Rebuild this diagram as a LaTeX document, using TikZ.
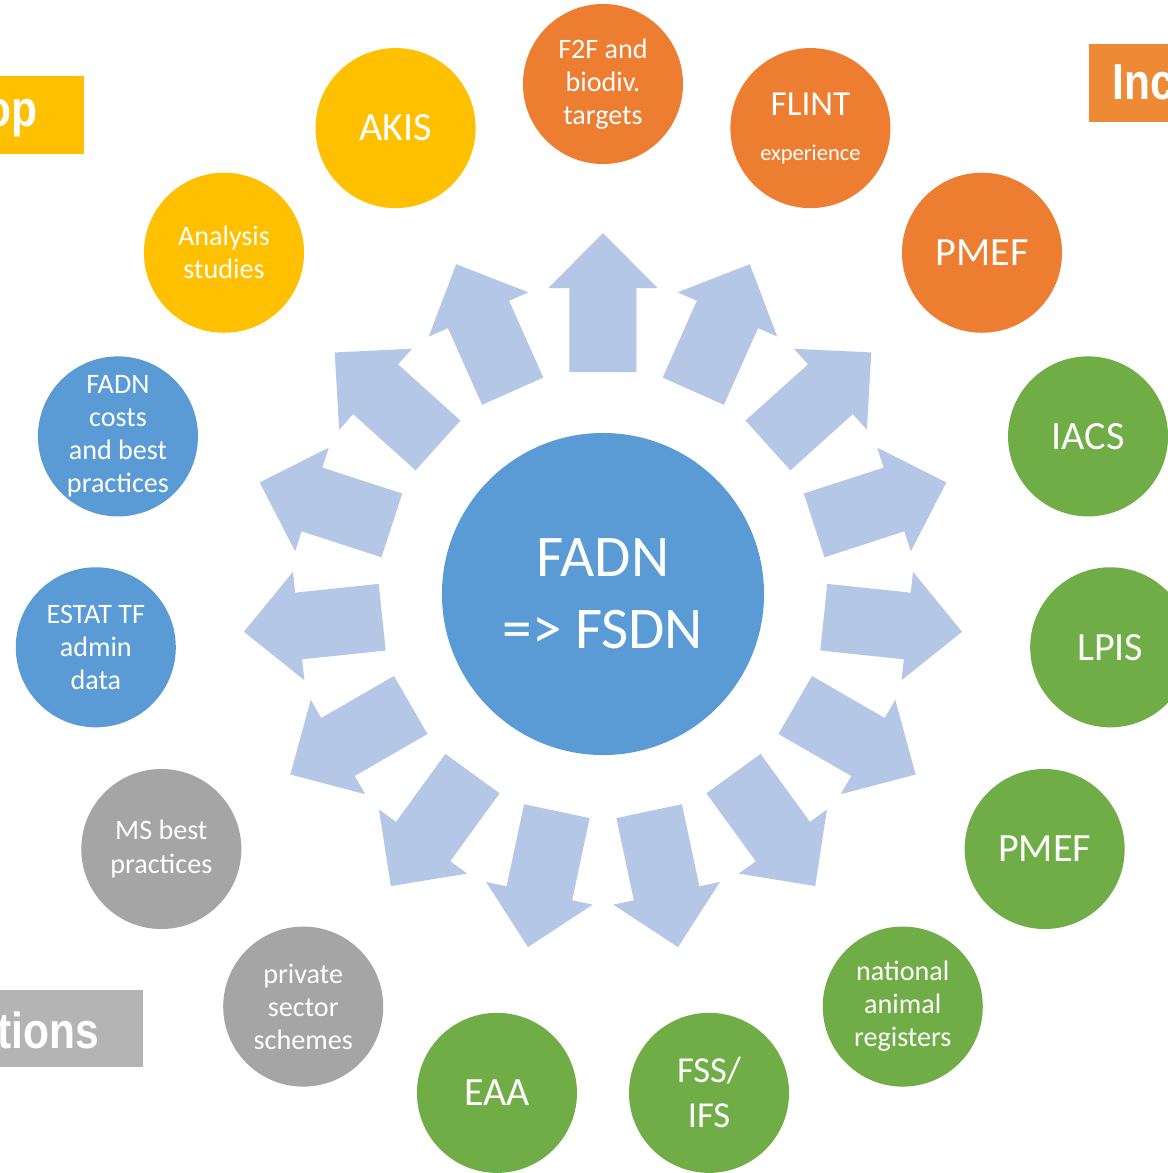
\documentclass[tikz,border=0pt]{standalone}
\usepackage{fontspec}
\setmainfont{Carlito}
\newfontfamily\headfont{Liberation Sans}
\usetikzlibrary{backgrounds}
\usetikzlibrary{calc}

\definecolor{ringorange}{HTML}{ED7D31}
\definecolor{ringyellow}{HTML}{FFC000}
\definecolor{ringgreen}{HTML}{70AD47}
\definecolor{ringblue}{HTML}{5B9BD5}
\definecolor{ringgray}{HTML}{A5A5A5}
\definecolor{arrowblue}{HTML}{B4C7E7}
\definecolor{taborange}{HTML}{EE8A35}
\definecolor{tabgray}{HTML}{B4B4B4}

\tikzset{
    bubble/.style={circle, minimum size=4cm, inner sep=0pt, fill=#1, text=white,
        align=center, font=\fontsize{20}{23.5}\selectfont},
    bigword/.style={font=\fontsize{28.5}{32}\selectfont},
    tab/.style={fill=#1, inner sep=0pt},
    tabtext/.style={text=white, inner sep=0pt, xscale=0.84, transform shape,
        font=\headfont\bfseries\fontsize{36}{40}\selectfont},
}

\begin{document}
\begin{tikzpicture}[
    x=0.025cm, y=0.025cm,
    show background rectangle,
    tight background,
    background rectangle/.style={fill=white},
 ]
    \useasboundingbox (-603,-579) rectangle (565,594);

    % corner tabs
    \fill[tab=ringyellow] (-620,440) rectangle (-519,518);
    \node[tabtext, anchor=base east] (tabl) at (-565,467) {op};
    \fill[tab=taborange] (486,472) rectangle (600,550);
    \node[tabtext, anchor=base west] (tabr) at (509,494) {Inc};
    \fill[tab=tabgray] (-620,-473) rectangle (-460,-396);
    \node[tabtext, anchor=base east] (tabb) at (-504,-454) {tions};

    % arrows
    \foreach \a in {90,66,...,-246}
        \fill[arrowblue, rotate=\a] (222,-33.5) -- (306,-33.5) -- (306,-54.5)
            -- (361,0) -- (306,54.5) -- (306,33.5) -- (222,33.5) -- cycle;

    \node[circle, fill=ringblue, minimum size=8.05cm, inner sep=0pt, text=white,
        align=center, font=\fontsize{42}{51}\selectfont] (hub) at (0,0) {FADN\\=> FSDN};

    \node[bubble=ringorange] (f2f) at (90:510) {F2F and\\biodiv.\\targets};
    \node[bubble=ringorange, font=\fontsize{16}{18}\selectfont] (flint) at (66:510)
        {{\fontsize{25}{28}\selectfont FLINT}\\[14pt]experience};
    \node[bubble=ringorange, bigword] (pmefa) at (42:510) {PMEF};
    \node[bubble=ringgreen, bigword] (iacs) at (18:510) {IACS};
    \node[bubble=ringgreen, bigword] (lpis) at (-6:510) {LPIS};
    \node[bubble=ringgreen, bigword] (pmefb) at (-30:510) {PMEF};
    \node[bubble=ringgreen] (nar) at (-54:510) {national\\animal\\registers};
    \node[bubble=ringgreen, font=\fontsize{26}{32}\selectfont] (fss) at (-78:510) {FSS/\\IFS};
    \node[bubble=ringgreen, bigword] (eaa) at (-102:510) {EAA};
    \node[bubble=ringgray] (pss) at (-126:510) {private\\sector\\schemes};
    \node[bubble=ringgray] (msbp) at (-150:510) {MS best\\practices};
    \node[bubble=ringblue] (estat) at (-174:510) {ESTAT TF\\admin\\data};
    \node[bubble=ringblue] (fadn) at (162:510) {FADN\\costs\\and best\\practices};
    \node[bubble=ringyellow] (ana) at (138:510) {Analysis\\studies};
    \node[bubble=ringyellow, bigword] (akis) at (114:510) {AKIS};
\end{tikzpicture}
\end{document}
